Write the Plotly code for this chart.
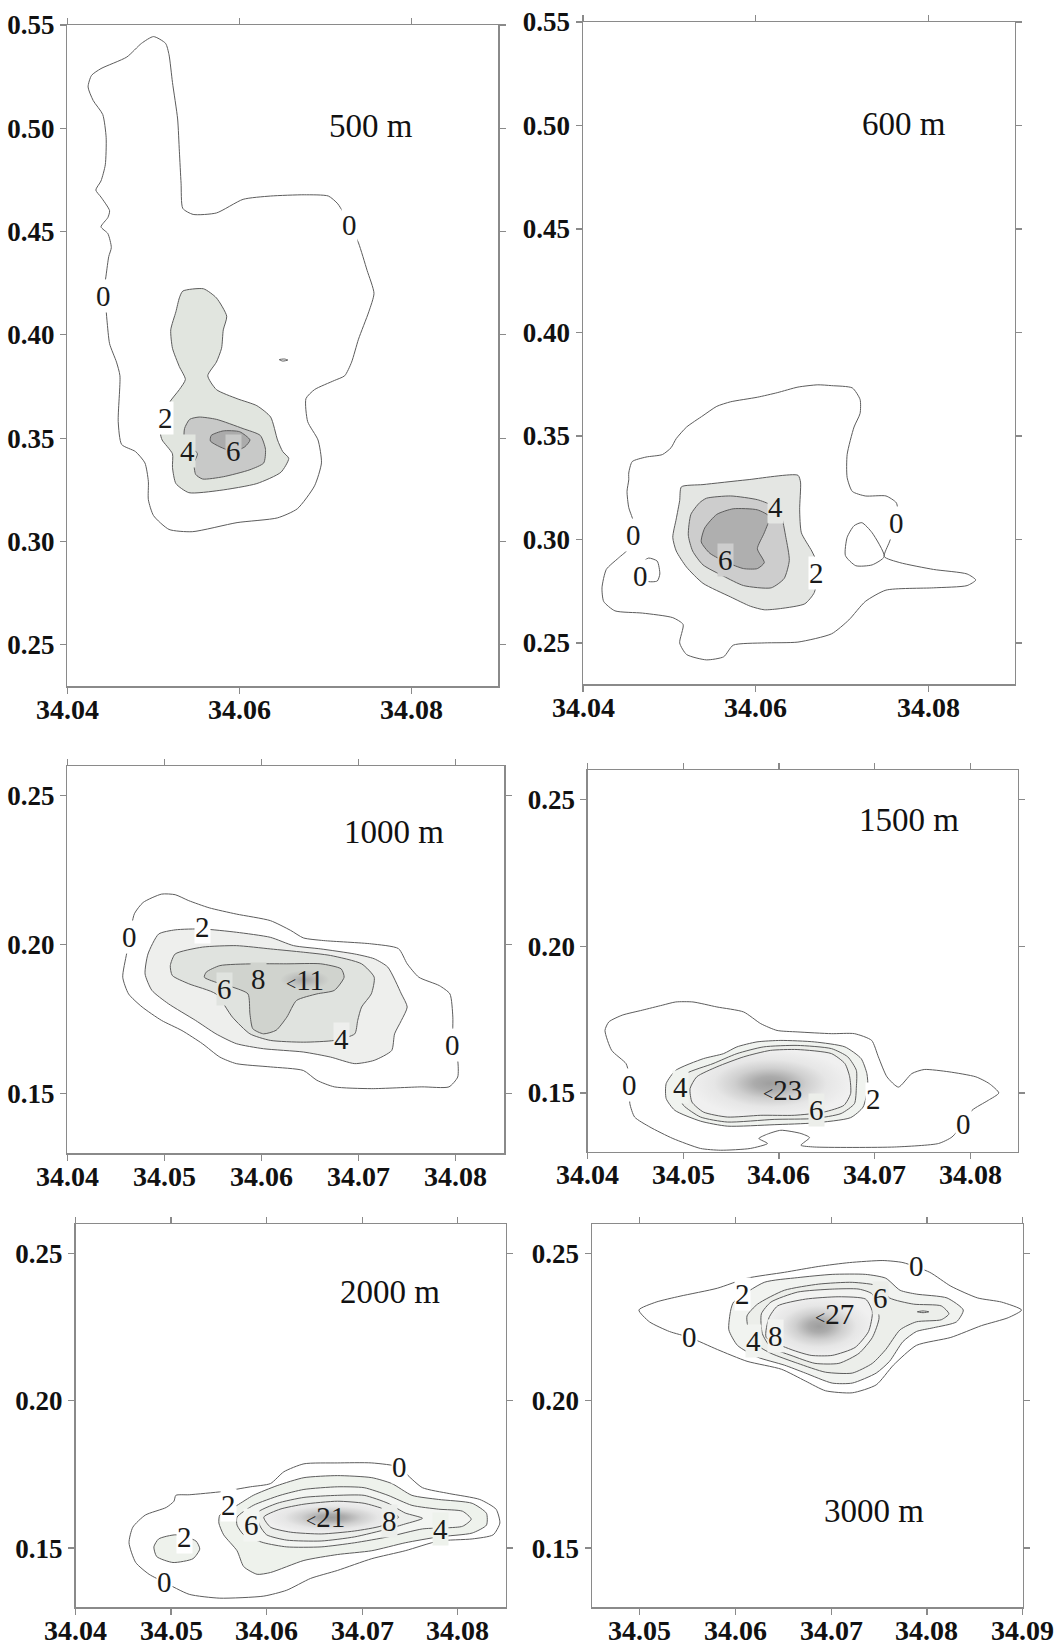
import plotly.graph_objects as go

# ---------------- tick values ----------------
x_ticks_wide = [34.04, 34.06, 34.08]
y_ticks_top = [0.25, 0.30, 0.35, 0.40, 0.45, 0.50, 0.55]
x_ticks_narrow = [34.04, 34.05, 34.06, 34.07, 34.08]
x_ticks_3000 = [34.05, 34.06, 34.07, 34.08, 34.09]
y_ticks_low = [0.15, 0.20, 0.25]

# ---------------- panel titles ----------------
depth_titles = ["500 m", "600 m", "1000 m", "1500 m", "2000 m", "3000 m"]
title_x = [34.0752, 34.0772, 34.0736, 34.0736, 34.0729, 34.0745]
title_y = [0.501, 0.5007, 0.238, 0.2429, 0.2369, 0.1625]

# ---------------- 500 m ----------------
p500_c0_x = [34.0500, 34.0514, 34.0518, 34.0522, 34.0528, 34.0530, 34.0532, 34.0534, 34.0546, 34.0573, 34.0604, 34.0636,
             34.0675, 34.0703, 34.0714, 34.0728, 34.0738, 34.0748, 34.0756, 34.0750, 34.0738, 34.0730, 34.0722, 34.0710,
             34.0687, 34.0677, 34.0679, 34.0691, 34.0695, 34.0687, 34.0667, 34.0644, 34.0597, 34.0545, 34.0518, 34.0500,
             34.0494, 34.0494, 34.0490, 34.0479, 34.0463, 34.0459, 34.0461, 34.0457, 34.0449, 34.0446, 34.0444, 34.0442,
             34.0445, 34.0448, 34.0451, 34.0447, 34.0439, 34.0447, 34.0449, 34.0439, 34.0433, 34.0439, 34.0444, 34.0445,
             34.0441, 34.0430, 34.0424, 34.0428, 34.0439, 34.0469, 34.0486]
p500_c0_y = [0.5444, 0.5411, 0.5356, 0.5222, 0.5045, 0.4889, 0.4734, 0.4612, 0.4583, 0.4590, 0.4656, 0.4672,
             0.4678, 0.4672, 0.4634, 0.4534, 0.4445, 0.4312, 0.4201, 0.4112, 0.3979, 0.3868, 0.3802, 0.3779,
             0.3735, 0.3691, 0.3580, 0.3491, 0.3380, 0.3269, 0.3158, 0.3114, 0.3091, 0.3047, 0.3058, 0.3125,
             0.3202, 0.3291, 0.3380, 0.3435, 0.3469, 0.3580, 0.3802, 0.3868, 0.3957, 0.4068, 0.4157, 0.4190,
             0.4290, 0.4379, 0.4423, 0.4490, 0.4523, 0.4568, 0.4601, 0.4667, 0.4701, 0.4745, 0.4823, 0.4956,
             0.5067, 0.5134, 0.5200, 0.5256, 0.5289, 0.5345, 0.5411]
p500_i0_x = [34.0646, 34.0652, 34.0656, 34.0650]
p500_i0_y = [0.3880, 0.3883, 0.3878, 0.3873]
p500_c2_x = [34.0534, 34.0558, 34.0573, 34.0585, 34.0581, 34.0579, 34.0573, 34.0563, 34.0573, 34.0597, 34.0620, 34.0636,
             34.0644, 34.0650, 34.0657, 34.0648, 34.0620, 34.0577, 34.0541, 34.0526, 34.0522, 34.0522, 34.0510, 34.0508,
             34.0518, 34.0530, 34.0537, 34.0530, 34.0522, 34.0520, 34.0526, 34.0530]
p500_c2_y = [0.4212, 0.4223, 0.4179, 0.4090, 0.4024, 0.3935, 0.3868, 0.3802, 0.3735, 0.3691, 0.3657, 0.3602,
             0.3491, 0.3435, 0.3402, 0.3335, 0.3280, 0.3247, 0.3236, 0.3280, 0.3358, 0.3424, 0.3491, 0.3524,
             0.3669, 0.3735, 0.3784, 0.3846, 0.3935, 0.4024, 0.4112, 0.4179]
p500_c4_x = [34.0553, 34.0573, 34.0604, 34.0624, 34.0630, 34.0628, 34.0612, 34.0581, 34.0557, 34.0549, 34.0547, 34.0551,
             34.0536, 34.0536, 34.0542]
p500_c4_y = [0.3602, 0.3591, 0.3546, 0.3513, 0.3446, 0.3380, 0.3347, 0.3313, 0.3302, 0.3324, 0.3380, 0.3424,
             0.3491, 0.3546, 0.3591]
p500_c6_x = [34.0567, 34.0581, 34.0600, 34.0612, 34.0606, 34.0593, 34.0577, 34.0566]
p500_c6_y = [0.3513, 0.3535, 0.3531, 0.3491, 0.3458, 0.3435, 0.3458, 0.3486]
p500_lab_t = ["0", "0", "2", "4", "6"]
p500_lab_x = [34.0728, 34.0442, 34.0514, 34.0540, 34.0593]
p500_lab_y = [0.4534, 0.4190, 0.3597, 0.3440, 0.3437]

# ---------------- 600 m ----------------
p600_c0_x = [34.0453, 34.0457, 34.0473, 34.0492, 34.0502, 34.0508, 34.0520, 34.0539, 34.0555, 34.0571, 34.0602, 34.0625,
             34.0649, 34.0672, 34.0688, 34.0712, 34.0721, 34.0721, 34.0714, 34.0706, 34.0706, 34.0712, 34.0727, 34.0751,
             34.0763, 34.0765, 34.0763, 34.0755, 34.0749, 34.0767, 34.0806, 34.0845, 34.0855, 34.0845, 34.0806, 34.0751,
             34.0727, 34.0708, 34.0688, 34.0649, 34.0610, 34.0574, 34.0563, 34.0543, 34.0520, 34.0512, 34.0516, 34.0504,
             34.0469, 34.0437, 34.0424, 34.0422, 34.0427, 34.0441, 34.0453, 34.0457, 34.0459, 34.0453, 34.0451, 34.0453]
p600_c0_y = [0.3321, 0.3376, 0.3398, 0.3410, 0.3443, 0.3487, 0.3543, 0.3598, 0.3643, 0.3665, 0.3687, 0.3709,
             0.3736, 0.3747, 0.3743, 0.3732, 0.3676, 0.3609, 0.3543, 0.3410, 0.3299, 0.3232, 0.3210, 0.3210,
             0.3177, 0.3121, 0.3077, 0.2988, 0.2917, 0.2888, 0.2855, 0.2833, 0.2804, 0.2777, 0.2766, 0.2755,
             0.2700, 0.2611, 0.2544, 0.2504, 0.2500, 0.2489, 0.2433, 0.2418, 0.2444, 0.2500, 0.2589, 0.2622,
             0.2644, 0.2655, 0.2700, 0.2766, 0.2855, 0.2910, 0.2955, 0.3010, 0.3077, 0.3154, 0.3232, 0.3288]
p600_i0r_x = [34.0723, 34.0735, 34.0749, 34.0735, 34.0716, 34.0704, 34.0706, 34.0714]
p600_i0r_y = [0.3081, 0.3032, 0.2917, 0.2877, 0.2873, 0.2922, 0.3010, 0.3066]
p600_i0l_x = [34.0469, 34.0476, 34.0486, 34.0489, 34.0486, 34.0474]
p600_i0l_y = [0.2888, 0.2910, 0.2895, 0.2833, 0.2799, 0.2799]
p600_c2_x = [34.0514, 34.0539, 34.0590, 34.0649, 34.0652, 34.0651, 34.0653, 34.0665, 34.0672, 34.0668, 34.0657, 34.0629,
             34.0610, 34.0594, 34.0571, 34.0539, 34.0520, 34.0508, 34.0504, 34.0508, 34.0512]
p600_c2_y = [0.3254, 0.3265, 0.3288, 0.3310, 0.3277, 0.3143, 0.3032, 0.2944, 0.2877, 0.2744, 0.2689, 0.2666,
             0.2660, 0.2677, 0.2722, 0.2788, 0.2866, 0.2944, 0.3010, 0.3099, 0.3188]
p600_c4_x = [34.0543, 34.0571, 34.0602, 34.0618, 34.0629, 34.0635, 34.0639, 34.0633, 34.0618, 34.0586, 34.0563, 34.0539,
             34.0527, 34.0522, 34.0525, 34.0535]
p600_c4_y = [0.3199, 0.3210, 0.3192, 0.3166, 0.3121, 0.3010, 0.2899, 0.2811, 0.2766, 0.2777, 0.2822, 0.2877,
             0.2944, 0.3021, 0.3121, 0.3177]
p600_c6_x = [34.0555, 34.0574, 34.0602, 34.0616, 34.0610, 34.0602, 34.0610, 34.0602, 34.0586, 34.0567, 34.0547, 34.0537,
             34.0541]
p600_c6_y = [0.3121, 0.3148, 0.3143, 0.3110, 0.3032, 0.2955, 0.2888, 0.2859, 0.2859, 0.2888, 0.2933, 0.2988,
             0.3055]
p600_lab_t = ["0", "0", "0", "4", "6", "2"]
p600_lab_x = [34.0459, 34.0467, 34.0763, 34.0623, 34.0565, 34.0670]
p600_lab_y = [0.3021, 0.2822, 0.3077, 0.3155, 0.2899, 0.2837]

# ---------------- 1000 m ----------------
p1000_c0_x = [34.0497, 34.0511, 34.0525, 34.0546, 34.0574, 34.0609, 34.0630, 34.0643, 34.0664, 34.0713, 34.0741, 34.0750,
              34.0762, 34.0783, 34.0794, 34.0797, 34.0797, 34.0802, 34.0802, 34.0793, 34.0765, 34.0713, 34.0675, 34.0657,
              34.0643, 34.0609, 34.0574, 34.0557, 34.0539, 34.0518, 34.0497, 34.0477, 34.0463, 34.0457, 34.0461, 34.0464,
              34.0469, 34.0478]
p1000_c0_y = [0.2170, 0.2168, 0.2148, 0.2124, 0.2103, 0.2081, 0.2048, 0.2023, 0.2014, 0.2003, 0.1987, 0.1936,
              0.1891, 0.1863, 0.1835, 0.1757, 0.1662, 0.1612, 0.1556, 0.1523, 0.1523, 0.1517, 0.1523, 0.1545,
              0.1578, 0.1590, 0.1601, 0.1623, 0.1668, 0.1712, 0.1746, 0.1791, 0.1835, 0.1891, 0.1970, 0.2025,
              0.2104, 0.2142]
p1000_c2_x = [34.0494, 34.0511, 34.0539, 34.0574, 34.0609, 34.0633, 34.0661, 34.0696, 34.0716, 34.0730, 34.0744, 34.0750,
              34.0744, 34.0737, 34.0734, 34.0716, 34.0696, 34.0671, 34.0643, 34.0602, 34.0574, 34.0553, 34.0532, 34.0504,
              34.0487, 34.0480, 34.0483]
p1000_c2_y = [0.2036, 0.2050, 0.2053, 0.2042, 0.2025, 0.1997, 0.1986, 0.1969, 0.1953, 0.1925, 0.1835, 0.1791,
              0.1746, 0.1701, 0.1645, 0.1612, 0.1601, 0.1623, 0.1640, 0.1651, 0.1668, 0.1701, 0.1746, 0.1802,
              0.1847, 0.1902, 0.1969]
p1000_c4_x = [34.0511, 34.0539, 34.0574, 34.0609, 34.0643, 34.0671, 34.0703, 34.0716, 34.0713, 34.0703, 34.0699, 34.0696,
              34.0675, 34.0643, 34.0609, 34.0588, 34.0570, 34.0553, 34.0525, 34.0508, 34.0506]
p1000_c4_y = [0.1969, 0.1992, 0.1997, 0.1986, 0.1975, 0.1964, 0.1936, 0.1891, 0.1835, 0.1791, 0.1746, 0.1701,
              0.1679, 0.1673, 0.1679, 0.1701, 0.1757, 0.1835, 0.1869, 0.1897, 0.1930]
p1000_c6_x = [34.0543, 34.0557, 34.0591, 34.0626, 34.0661, 34.0682, 34.0685, 34.0675, 34.0657, 34.0636, 34.0626, 34.0615,
              34.0602, 34.0591, 34.0588, 34.0586, 34.0570, 34.0553, 34.0541]
p1000_c6_y = [0.1908, 0.1930, 0.1936, 0.1936, 0.1936, 0.1919, 0.1891, 0.1847, 0.1835, 0.1813, 0.1757, 0.1713,
              0.1701, 0.1718, 0.1768, 0.1835, 0.1858, 0.1874, 0.1891]
p1000_core_x = [34.0619, 34.0626, 34.0645, 34.0664, 34.0670, 34.0664, 34.0645, 34.0626]
p1000_core_y = [0.1882, 0.1905, 0.1914, 0.1905, 0.1882, 0.1858, 0.1850, 0.1858]
p1000_lab_t = ["0", "0", "2", "4", "6", "8", "<11"]
p1000_lab_x = [34.0464, 34.0797, 34.0539, 34.0682, 34.0562, 34.0597, 34.0645]
p1000_lab_y = [0.2025, 0.1662, 0.2059, 0.1685, 0.1852, 0.1886, 0.1882]

# ---------------- 1500 m ----------------
p1500_c0_x = [34.0418, 34.0422, 34.0436, 34.0457, 34.0478, 34.0492, 34.0510, 34.0535, 34.0563, 34.0581, 34.0598, 34.0619,
              34.0655, 34.0679, 34.0697, 34.0704, 34.0713, 34.0725, 34.0739, 34.0752, 34.0778, 34.0806, 34.0820, 34.0830,
              34.0819, 34.0802, 34.0793, 34.0781, 34.0767, 34.0721, 34.0637, 34.0623, 34.0632, 34.0623, 34.0602, 34.0588,
              34.0579, 34.0588, 34.0570, 34.0539, 34.0518, 34.0489, 34.0465, 34.0449, 34.0444, 34.0444, 34.0443, 34.0440,
              34.0425]
p1500_c0_y = [0.1713, 0.1742, 0.1765, 0.1782, 0.1799, 0.1810, 0.1810, 0.1793, 0.1776, 0.1736, 0.1713, 0.1708,
              0.1702, 0.1702, 0.1679, 0.1623, 0.1555, 0.1520, 0.1566, 0.1580, 0.1572, 0.1555, 0.1532, 0.1500,
              0.1475, 0.1441, 0.1396, 0.1350, 0.1328, 0.1316, 0.1316, 0.1322, 0.1348, 0.1362, 0.1373, 0.1360,
              0.1345, 0.1328, 0.1311, 0.1305, 0.1311, 0.1345, 0.1384, 0.1418, 0.1464, 0.1526, 0.1566, 0.1600,
              0.1645]
p1500_c2_x = [34.0482, 34.0492, 34.0521, 34.0542, 34.0556, 34.0577, 34.0602, 34.0637, 34.0669, 34.0686, 34.0692, 34.0693,
              34.0688, 34.0675, 34.0637, 34.0595, 34.0546, 34.0518, 34.0491, 34.0482]
p1500_c2_y = [0.1532, 0.1577, 0.1617, 0.1634, 0.1657, 0.1674, 0.1679, 0.1674, 0.1657, 0.1617, 0.1566, 0.1520,
              0.1452, 0.1416, 0.1398, 0.1392, 0.1387, 0.1404, 0.1441, 0.1481]
p1500_c4_x = [34.0492, 34.0503, 34.0531, 34.0556, 34.0584, 34.0619, 34.0655, 34.0672, 34.0681, 34.0681, 34.0679, 34.0665,
              34.0637, 34.0595, 34.0546, 34.0518, 34.0500, 34.0495]
p1500_c4_y = [0.1520, 0.1566, 0.1600, 0.1634, 0.1657, 0.1662, 0.1651, 0.1623, 0.1577, 0.1520, 0.1464, 0.1430,
              0.1413, 0.1410, 0.1401, 0.1418, 0.1458, 0.1492]
p1500_c6_x = [34.0507, 34.0514, 34.0535, 34.0563, 34.0591, 34.0619, 34.0655, 34.0669, 34.0674, 34.0675, 34.0668, 34.0647,
              34.0616, 34.0581, 34.0546, 34.0521, 34.0509]
p1500_c6_y = [0.1515, 0.1555, 0.1589, 0.1623, 0.1645, 0.1648, 0.1634, 0.1600, 0.1555, 0.1498, 0.1458, 0.1435,
              0.1424, 0.1424, 0.1418, 0.1435, 0.1469]
p1500_lab_t = ["0", "0", "4", "2", "6", "<23"]
p1500_lab_x = [34.0444, 34.0793, 34.0497, 34.0699, 34.0639, 34.0604]
p1500_lab_y = [0.1526, 0.1396, 0.1520, 0.1480, 0.1441, 0.1509]

# ---------------- 2000 m ----------------
p2000_c0_x = [34.0505, 34.0519, 34.0554, 34.0583, 34.0604, 34.0618, 34.0639, 34.0674, 34.0710, 34.0739, 34.0748, 34.0763,
              34.0791, 34.0823, 34.0840, 34.0844, 34.0837, 34.0815, 34.0780, 34.0745, 34.0710, 34.0674, 34.0646, 34.0621,
              34.0597, 34.0551, 34.0519, 34.0493, 34.0477, 34.0463, 34.0456, 34.0460, 34.0473, 34.0495, 34.0503]
p2000_c0_y = [0.1679, 0.1681, 0.1692, 0.1708, 0.1719, 0.1759, 0.1786, 0.1789, 0.1789, 0.1775, 0.1746, 0.1705,
              0.1685, 0.1665, 0.1632, 0.1585, 0.1545, 0.1531, 0.1524, 0.1491, 0.1464, 0.1424, 0.1397, 0.1357,
              0.1337, 0.1330, 0.1343, 0.1384, 0.1411, 0.1451, 0.1518, 0.1571, 0.1612, 0.1638, 0.1659]
p2000_i2_x = [34.0482, 34.0487, 34.0505, 34.0526, 34.0530, 34.0523, 34.0502, 34.0485]
p2000_i2_y = [0.1504, 0.1531, 0.1545, 0.1524, 0.1497, 0.1464, 0.1451, 0.1471]
p2000_c2_x = [34.0551, 34.0569, 34.0586, 34.0611, 34.0639, 34.0674, 34.0710, 34.0731, 34.0752, 34.0780, 34.0815, 34.0830,
              34.0830, 34.0815, 34.0780, 34.0745, 34.0710, 34.0674, 34.0639, 34.0604, 34.0590, 34.0576, 34.0569, 34.0555,
              34.0550]
p2000_c2_y = [0.1612, 0.1645, 0.1679, 0.1712, 0.1739, 0.1746, 0.1739, 0.1719, 0.1679, 0.1665, 0.1652, 0.1618,
              0.1578, 0.1551, 0.1538, 0.1518, 0.1491, 0.1478, 0.1458, 0.1417, 0.1411, 0.1437, 0.1491, 0.1545,
              0.1585]
p2000_c4_x = [34.0569, 34.0586, 34.0614, 34.0639, 34.0674, 34.0702, 34.0727, 34.0752, 34.0780, 34.0805, 34.0814, 34.0805,
              34.0763, 34.0727, 34.0692, 34.0657, 34.0621, 34.0597, 34.0576, 34.0569]
p2000_c4_y = [0.1605, 0.1645, 0.1679, 0.1699, 0.1708, 0.1705, 0.1679, 0.1645, 0.1632, 0.1625, 0.1598, 0.1574,
              0.1565, 0.1538, 0.1518, 0.1504, 0.1504, 0.1518, 0.1545, 0.1578]
p2000_c6_x = [34.0590, 34.0611, 34.0639, 34.0674, 34.0702, 34.0727, 34.0745, 34.0763, 34.0745, 34.0727, 34.0692, 34.0657,
              34.0621, 34.0600, 34.0593]
p2000_c6_y = [0.1619, 0.1652, 0.1672, 0.1679, 0.1679, 0.1652, 0.1619, 0.1601, 0.1582, 0.1565, 0.1538, 0.1524,
              0.1527, 0.1545, 0.1575]
p2000_c8_x = [34.0597, 34.0614, 34.0639, 34.0674, 34.0702, 34.0723, 34.0738, 34.0720, 34.0692, 34.0657, 34.0625, 34.0604]
p2000_c8_y = [0.1605, 0.1632, 0.1649, 0.1659, 0.1652, 0.1632, 0.1605, 0.1575, 0.1558, 0.1548, 0.1554, 0.1571]
p2000_lab_t = ["0", "0", "2", "2", "6", "8", "4", "<21"]
p2000_lab_x = [34.0739, 34.0493, 34.0514, 34.0560, 34.0584, 34.0729, 34.0782, 34.0662]
p2000_lab_y = [0.1775, 0.1384, 0.1538, 0.1645, 0.1578, 0.1591, 0.1565, 0.1605]

# ---------------- 3000 m ----------------
p3000_c0_x = [34.0499, 34.0517, 34.0542, 34.0581, 34.0612, 34.0651, 34.0687, 34.0719, 34.0754, 34.0775, 34.0803, 34.0825,
              34.0853, 34.0878, 34.0899, 34.0885, 34.0857, 34.0825, 34.0789, 34.0765, 34.0747, 34.0722, 34.0694, 34.0673,
              34.0648, 34.0612, 34.0581, 34.0552, 34.0531, 34.0510]
p3000_c0_y = [0.2308, 0.2335, 0.2355, 0.2382, 0.2416, 0.2436, 0.2456, 0.2469, 0.2476, 0.2469, 0.2436, 0.2389,
              0.2349, 0.2335, 0.2308, 0.2282, 0.2255, 0.2215, 0.2188, 0.2121, 0.2054, 0.2027, 0.2034, 0.2067,
              0.2107, 0.2134, 0.2174, 0.2215, 0.2235, 0.2268]
p3000_c2_x = [34.0595, 34.0598, 34.0630, 34.0665, 34.0701, 34.0736, 34.0757, 34.0772, 34.0789, 34.0821, 34.0838, 34.0831,
              34.0807, 34.0789, 34.0775, 34.0761, 34.0747, 34.0722, 34.0701, 34.0673, 34.0651, 34.0623, 34.0602, 34.0593]
p3000_c2_y = [0.2308, 0.2335, 0.2402, 0.2418, 0.2429, 0.2429, 0.2416, 0.2375, 0.2362, 0.2349, 0.2308, 0.2268,
              0.2248, 0.2235, 0.2201, 0.2134, 0.2094, 0.2060, 0.2060, 0.2094, 0.2121, 0.2148, 0.2188, 0.2241]
p3000_c4_x = [34.0612, 34.0623, 34.0651, 34.0687, 34.0722, 34.0750, 34.0761, 34.0786, 34.0815, 34.0823, 34.0815, 34.0789,
              34.0772, 34.0757, 34.0743, 34.0722, 34.0694, 34.0665, 34.0637, 34.0623, 34.0614]
p3000_c4_y = [0.2288, 0.2328, 0.2375, 0.2396, 0.2402, 0.2389, 0.2349, 0.2328, 0.2322, 0.2295, 0.2275, 0.2268,
              0.2241, 0.2174, 0.2127, 0.2094, 0.2097, 0.2127, 0.2161, 0.2188, 0.2235]
p3000_c6_x = [34.0627, 34.0637, 34.0665, 34.0701, 34.0729, 34.0743, 34.0750, 34.0743, 34.0729, 34.0708, 34.0683, 34.0658,
              34.0637, 34.0628]
p3000_c6_y = [0.2295, 0.2335, 0.2369, 0.2379, 0.2379, 0.2362, 0.2282, 0.2215, 0.2161, 0.2127, 0.2127, 0.2154,
              0.2181, 0.2228]
p3000_i6_x = [34.0790, 34.0796, 34.0802, 34.0796]
p3000_i6_y = [0.2302, 0.2305, 0.2302, 0.2299]
p3000_c8_x = [34.0635, 34.0644, 34.0673, 34.0708, 34.0736, 34.0743, 34.0739, 34.0725, 34.0701, 34.0679, 34.0658, 34.0632]
p3000_c8_y = [0.2282, 0.2322, 0.2345, 0.2353, 0.2345, 0.2302, 0.2235, 0.2181, 0.2154, 0.2154, 0.2174, 0.2215]
p3000_lab_t = ["0", "0", "2", "6", "4", "8", "<27"]
p3000_lab_x = [34.0789, 34.0552, 34.0607, 34.0752, 34.0619, 34.0642, 34.0703]
p3000_lab_y = [0.2456, 0.2215, 0.2362, 0.2349, 0.2204, 0.2221, 0.2295]

# ---------------- styling ----------------
W, H = 1057, 1645
SERIF = "Liberation Serif"
LINE = "#5c5c5c"
AXIS = "#8a8a8a"
GRAD = [[0.0, "#9e9e9e"], [0.2, "#ababab"], [0.45, "#cfcfcf"], [0.7, "#e6e6e6"], [1.0, "#f0f0f0"]]
GRAD_CORE = [[0.0, "#a6a6a6"], [0.6, "#c2c4c1"], [1.0, "#d0d3ce"]]
XLAB_GAP = 23  # px between axis line and centre of x tick labels


def px_box(x0, x1, y0, y1):
    return [x0 / W, x1 / W], [1 - y1 / H, 1 - y0 / H]


panels = [
    dict(px=(67.4, 498, 25, 686), xr=[34.04, 34.09], yr=[0.23, 0.55], xt=x_ticks_wide, yt=y_ticks_top,
         cont=[(0, p500_c0_x, p500_c0_y), (0, p500_i0_x, p500_i0_y), (2, p500_c2_x, p500_c2_y),
               (4, p500_c4_x, p500_c4_y), (6, p500_c6_x, p500_c6_y)],
         fills={2: "#e1e5df", 4: "#c8c9c8", 6: "#ababab"}, grads={},
         labs=(p500_lab_t, p500_lab_x, p500_lab_y), xfs=28),
    dict(px=(583, 1014.6, 22, 684.3), xr=[34.04, 34.09], yr=[0.23, 0.55], xt=x_ticks_wide, yt=y_ticks_top,
         cont=[(0, p600_c0_x, p600_c0_y), (0, p600_i0r_x, p600_i0r_y), (0, p600_i0l_x, p600_i0l_y),
               (2, p600_c2_x, p600_c2_y), (4, p600_c4_x, p600_c4_y), (6, p600_c6_x, p600_c6_y)],
         fills={2: "#e4e6e3", 4: "#cdcdcd", 6: "#afafaf"}, grads={},
         labs=(p600_lab_t, p600_lab_x, p600_lab_y), xfs=28),
    dict(px=(67.4, 504.3, 766, 1153.3), xr=[34.04, 34.085], yr=[0.13, 0.26], xt=x_ticks_narrow, yt=y_ticks_low,
         cont=[(0, p1000_c0_x, p1000_c0_y), (2, p1000_c2_x, p1000_c2_y), (4, p1000_c4_x, p1000_c4_y),
               (6, p1000_c6_x, p1000_c6_y), ("core", p1000_core_x, p1000_core_y)],
         fills={2: "#eeefed", 4: "#e0e3df", 6: "#d0d3ce"}, grads={"core": GRAD_CORE},
         labs=(p1000_lab_t, p1000_lab_x, p1000_lab_y), xfs=28),
    dict(px=(587.8, 1017.9, 770, 1151.7), xr=[34.04, 34.085], yr=[0.13, 0.26], xt=x_ticks_narrow, yt=y_ticks_low,
         cont=[(0, p1500_c0_x, p1500_c0_y), (2, p1500_c2_x, p1500_c2_y), (4, p1500_c4_x, p1500_c4_y),
               (6, p1500_c6_x, p1500_c6_y)],
         fills={2: "#f0f3ef", 4: "#eceeea"}, grads={6: GRAD},
         labs=(p1500_lab_t, p1500_lab_x, p1500_lab_y), xfs=28),
    dict(px=(75.5, 505.6, 1224, 1607), xr=[34.04, 34.085], yr=[0.13, 0.26], xt=x_ticks_narrow, yt=y_ticks_low,
         cont=[(0, p2000_c0_x, p2000_c0_y), (2, p2000_i2_x, p2000_i2_y), (2, p2000_c2_x, p2000_c2_y),
               (4, p2000_c4_x, p2000_c4_y), (6, p2000_c6_x, p2000_c6_y), (8, p2000_c8_x, p2000_c8_y)],
         fills={2: "#eef2ec", 4: "#f3f5f2", 6: "#eceeeb"}, grads={8: GRAD},
         labs=(p2000_lab_t, p2000_lab_x, p2000_lab_y), xfs=28),
    dict(px=(592, 1022.6, 1224, 1607), xr=[34.045, 34.09], yr=[0.13, 0.26], xt=x_ticks_3000, yt=y_ticks_low,
         cont=[(0, p3000_c0_x, p3000_c0_y), (2, p3000_c2_x, p3000_c2_y), (4, p3000_c4_x, p3000_c4_y),
               (6, p3000_c6_x, p3000_c6_y), (6, p3000_i6_x, p3000_i6_y), (8, p3000_c8_x, p3000_c8_y)],
         fills={2: "#f1f3f0", 4: "#eceeea", 6: "#f2f3f1"}, grads={8: GRAD},
         labs=(p3000_lab_t, p3000_lab_x, p3000_lab_y), xfs=28),
]

fig = go.Figure()
annotations = []
layout_axes = {}

for k, p in enumerate(panels):
    n = k + 1
    xa = "x" if n == 1 else f"x{n}"
    ya = "y" if n == 1 else f"y{n}"
    for lev, xs, ys in p["cont"]:
        if len(xs) != len(ys):
            raise ValueError(f"panel {n} level {lev}: {len(xs)} vs {len(ys)}")
        tr = go.Scatter(
            x=list(xs) + [xs[0]], y=list(ys) + [ys[0]], mode="lines", xaxis=xa, yaxis=ya,
            line=dict(color=LINE, width=0 if lev == "core" else 1.0, shape="spline", smoothing=0.6),
            hoverinfo="skip", showlegend=False,
        )
        if lev in p["grads"]:
            tr.update(fill="toself", fillgradient=dict(type="radial", colorscale=p["grads"][lev]))
        elif lev in p["fills"]:
            tr.update(fill="toself", fillcolor=p["fills"][lev])
        fig.add_trace(tr)

    # contour labels
    for t, lx, ly in zip(*p["labs"]):
        if t.startswith("<"):
            txt = "<span style='font-size:18px'>&lt;</span>" + t[1:]
            bg = None
        else:
            v = int(t)
            txt = t
            bg = "white" if v == 0 else p["fills"].get(v - 2, "white")
        ann = dict(x=lx, y=ly, xref=xa, yref=ya, text=txt, showarrow=False,
                   font=dict(family=SERIF, size=29, color="#1a1a1a"), borderpad=0)
        if bg:
            ann["bgcolor"] = bg
        annotations.append(ann)

    # depth title
    annotations.append(dict(x=title_x[k], y=title_y[k], xref=xa, yref=ya, text=depth_titles[k],
                            showarrow=False, font=dict(family=SERIF, size=33, color="#111")))

    # x tick labels (placed as text just under the axis line)
    x0, x1, y0, y1 = p["px"]
    lab_y = 1 - (y1 + XLAB_GAP) / H
    for tv in p["xt"]:
        annotations.append(dict(x=tv, y=lab_y, xref=xa, yref="paper", text=f"{tv:.2f}",
                                showarrow=False, xanchor="center", yanchor="middle",
                                font=dict(family=SERIF, size=p["xfs"], color="#111", weight="bold")))

    common = dict(showline=True, linecolor=AXIS, linewidth=1.5, mirror="ticks", ticks="outside",
                  ticklen=6, tickwidth=1.2, tickcolor=AXIS, showgrid=False, zeroline=False,
                  automargin=False, tickformat=".2f", fixedrange=True)
    dx, dy = px_box(x0, x1, y0, y1)
    layout_axes["xaxis" if n == 1 else f"xaxis{n}"] = dict(
        common, domain=dx, range=p["xr"], tickmode="array", tickvals=p["xt"], anchor=ya,
        showticklabels=False)
    layout_axes["yaxis" if n == 1 else f"yaxis{n}"] = dict(
        common, domain=dy, range=p["yr"], tickmode="array", tickvals=p["yt"], anchor=xa,
        tickfont=dict(family=SERIF, size=27, color="#111", weight="bold"))

fig.update_layout(
    template="none",
    width=W, height=H, autosize=False,
    margin=dict(l=0, r=0, t=0, b=0, pad=0),
    paper_bgcolor="white", plot_bgcolor="white",
    showlegend=False,
    annotations=annotations,
    **layout_axes,
)

# no mode bar; remove the browser's default 8px body margin so the figure fills the window exactly
fig.write_html("out.html", config={"displayModeBar": False, "staticPlot": True},
               post_script="document.body.style.margin='0px';")
